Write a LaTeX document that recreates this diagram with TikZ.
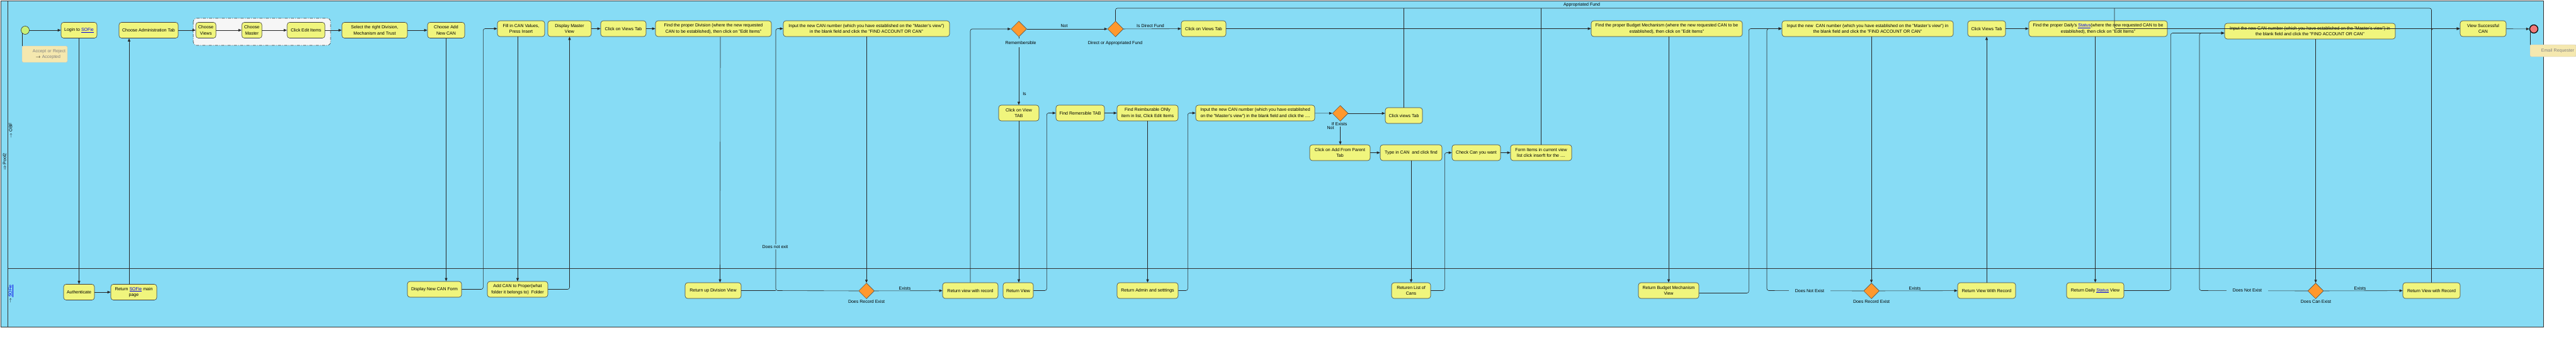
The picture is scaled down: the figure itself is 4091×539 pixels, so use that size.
\documentclass[tikz,border=0pt]{standalone}
\usepackage{fontspec}
\setmainfont{Liberation Sans}
\usepackage{tikz}
\usetikzlibrary{arrows.meta, shapes.geometric}
\definecolor{lanecol}{RGB}{135,220,245}
\definecolor{taskyel}{RGB}{240,245,125}
\definecolor{gworange}{RGB}{255,152,45}
\definecolor{startgreen}{RGB}{200,240,120}
\definecolor{endred}{RGB}{240,120,120}
\definecolor{notefill}{RGB}{245,232,175}
\definecolor{notegray}{RGB}{128,128,128}
\definecolor{linkblue}{RGB}{0,0,230}
\newcommand{\boxfont}{\fontsize{7}{9.5}\selectfont}
\newcommand{\sofie}{\textcolor{linkblue}{\underline{SOFie}}}
\newcommand{\status}{\textcolor{linkblue}{\underline{Status}}}

\begin{document}
\begin{tikzpicture}[x=1pt, y=-1pt,
		task/.style={draw=black!75, line width=0.6pt, fill=taskyel, rounded corners=4pt, minimum height=25pt, inner sep=1pt, align=center, font=\boxfont},
		gate/.style={diamond, draw=black!75, line width=0.5pt, fill=gworange, minimum width=25pt, minimum height=25pt, inner sep=0pt},
		flow/.style={draw=black!85, line width=0.6pt, rounded corners=3pt, -{Triangle[length=5pt,width=4pt]}},
		link/.style={draw=black!85, line width=0.6pt, rounded corners=3pt},
		lbl/.style={font=\boxfont, inner sep=1pt},
		gap/.style={lbl, fill=lanecol, inner xsep=5pt}]
		  \useasboundingbox (0,0) rectangle (4091,539);

		  % draws the pool and the two lanes
		    \draw[black!80, line width=0.8pt, fill=lanecol] (1,1) rectangle (4039,519);
		    \draw[black!80, line width=0.8pt] (12,1) -- (12,519);
		    \draw[black!80, line width=0.8pt] (12,426) -- (4039,426);
		    \node[lbl, rotate=90] (poolname) at (7,257) {$\Rightarrow$\,Pool2};
		    \node[lbl, rotate=90] (obfname) at (17,207) {$\rightarrow$ OBF};
		    \node[lbl, rotate=90] (sofiename) at (17,467) {$\rightarrow$ \sofie};

		  % draws the group of the administration steps
		    \draw[black!80, line width=0.6pt, fill=gray!7, rounded corners=5pt, dash pattern=on 5pt off 2pt on 1pt off 2pt] (307,29) rectangle (525,72);

		  % draws the events and the notes
		    \node[circle, draw=black!80, line width=0.6pt, fill=startgreen, minimum size=13pt, inner sep=0pt] (start) at (40,48) {};
		    \node[circle, draw=black, line width=1.2pt, fill=endred, minimum size=13pt, inner sep=0pt] (stopev) at (4024,46) {};
		    \node[draw=black!25, fill=notefill, rounded corners=2pt, minimum width=72pt, minimum height=26pt, inner sep=2pt, align=right, text width=66pt, font=\boxfont, text=notegray] (acceptnote) at (71,86) {Accept or Reject\\\textcolor{black}{$\rightarrow$} Accepted\hspace*{8pt}};
		    \node[draw=black!25, fill=notefill, rounded corners=2pt, minimum width=73pt, minimum height=19pt, inner sep=2pt, align=right, text width=67pt, font=\boxfont, text=notegray] (mailnote) at (4054.5,80.5) {Email Requester};

		  % draws the tasks of OBF
		    \node[task, minimum width=57pt] (login) at (125.5,48) {Login to \sofie};
		    \node[task, minimum width=94pt] (chadmin) at (236,48) {Choose Administration Tab};
		    \node[task, minimum width=32pt] (chviews) at (327,48) {Choose\\Views};
		    \node[task, minimum width=32pt] (chmaster) at (400,48) {Choose\\Master};
		    \node[task, minimum width=60pt] (clickedit) at (486,48) {Click Edit Items};
		    \node[task, minimum width=104pt] (seldiv) at (595,48) {Select the right Division,\\Mechanism and Trust};
		    \node[task, minimum width=59pt] (addcan) at (708.5,48) {Choose Add\\New CAN};
		    \node[task, minimum width=75pt] (fillcan) at (827.5,45.5) {Fill in CAN Values,\\Press Insert};
		    \node[task, minimum width=69pt] (dispmaster) at (904.5,45.5) {Display Master\\View};
		    \node[task, minimum width=72pt] (clickviews1) at (990,45.5) {Click on Views Tab};
		    \node[task, minimum width=184pt] (finddiv) at (1133,45.5) {Find the proper Division (where the new requested\\CAN to be established), then click on "Edit Items"};
		    \node[task, minimum width=264pt] (input1) at (1376,45.5) {Input the new CAN number (which you have established on the "Master's view")\\in the blank field and click the "FIND ACCOUNT OR CAN"};
		    \node[gate] (gwremem) at (1618,46) {};
		    \node[task, minimum width=64pt] (clickview) at (1618,179.5) {Click on View\\TAB};
		    \node[task, minimum width=77pt] (findremer) at (1715.5,179.5) {Find Remersible TAB};
		    \node[task, minimum width=97pt] (findreimb) at (1822.5,179.5) {Find Reimburable ONly\\item in list, Click Edit Items};
		    \node[task, minimum width=189pt] (input2) at (1993.5,179.5) {Input the new CAN number (which you have established\\on the "Master's view") in the blank field and click the ....};
		    \node[gate] (gwexists) at (2128.5,180) {};
		    \node[task, minimum width=59pt] (clickviews3) at (2229.5,183.5) {Click views Tab};
		    \node[task, minimum width=96pt] (addparent) at (2128,242.5) {Click on Add From Parent\\Tab};
		    \node[task, minimum width=98pt] (typecan) at (2241,242.5) {Type in CAN\ \ and click find};
		    \node[task, minimum width=77pt] (checkcan) at (2344.5,242.5) {Check Can you want};
		    \node[task, minimum width=97pt] (formitems) at (2447.5,242.5) {Form Items in current view\\list click inserft for the ....};
		    \node[gate] (gwfund) at (1771.5,46) {};
		    \node[task, minimum width=71pt] (clickviews2) at (1911.5,45.5) {Click on Views Tab};
		    \node[task, minimum width=240pt] (findbudget) at (2647,45.5) {Find the proper Budget Mechanism (where the new requested CAN to be\\established), then click on "Edit Items"};
		    \node[task, minimum width=272pt] (input3) at (2966,45.5) {Input the new\ \ CAN number (which you have established on the "Master's view") in\\the blank field and click the "FIND ACCOUNT OR CAN"};
		    \node[task, minimum width=60pt] (clickviews4) at (3155,45.5) {Click Views Tab};
		    \node[task, minimum width=220pt] (finddaily) at (3332,45.5) {Find the proper Daily's \status(where the new requested CAN to be\\established), then click on "Edit Items"};
		    \node[task, minimum width=271pt] (input4) at (3668.5,49.5) {Input the new CAN number (which you have established on the "Master's view") in\\the blank field and click the "FIND ACCOUNT OR CAN"};
		    \node[task, minimum width=73pt] (viewsucc) at (3943.5,45.5) {View Successful\\CAN};

		  % draws the tasks of SOFie
		    \node[task, minimum width=49pt] (auth) at (125.5,464) {Authenticate};
		    \node[task, minimum width=73pt] (retmain) at (212.5,464) {Return \sofie{} main\\page};
		    \node[task, minimum width=86pt] (dispform) at (690,459.5) {Display New CAN Form};
		    \node[task, minimum width=96pt] (addproper) at (822,459.5) {Add CAN to Proper(what\\folder it belongs to)\ \ Folder};
		    \node[task, minimum width=89pt] (retdiv) at (1132.5,461.5) {Return up Division View};
		    \node[gate] (gwrec1) at (1376,462) {};
		    \node[task, minimum width=88pt] (retrec1) at (1541,461.5) {Return view with record};
		    \node[task, minimum width=48pt] (retview) at (1617,461.5) {Return View};
		    \node[task, minimum width=97pt] (retadmin) at (1822.5,461.5) {Return Admin and setttings};
		    \node[task, minimum width=62pt] (retcans) at (2241,461.5) {Returen List of\\Cans};
		    \node[task, minimum width=96pt] (retbudget) at (2650,461.5) {Return Budget Mechanism\\View};
		    \node[gate] (gwrec2) at (2972,462) {};
		    \node[task, minimum width=92pt] (retrec2) at (3155,461.5) {Return View With Record};
		    \node[task, minimum width=91pt] (retdaily) at (3327.5,461.5) {Return Daily \status{} View};
		    \node[gate] (gwcan) at (3677.5,462) {};
		    \node[task, minimum width=91pt] (retrec3) at (3861.5,461.5) {Return View with Record};

		  % draws the sequence flows
		    \draw[link] (acceptnote.north west) -- (acceptnote.north west |- start.south west);
		    \draw[link] (mailnote.north west) -- (mailnote.north west |- stopev.south west);
		    \draw[flow] (start) -- (login);
		    \draw[flow] (login) -- (auth);
		    \draw[flow] (auth) -- (retmain);
		    \coordinate (upadmin) at (205,451.5);
		    \draw[flow] (upadmin) -- (upadmin |- chadmin.south);
		    \draw[flow] (chadmin) -- (chviews);
		    \draw[flow] (chviews) -- (chmaster);
		    \draw[flow] (chmaster) -- (clickedit);
		    \draw[flow] (clickedit) -- (seldiv);
		    \draw[flow] (seldiv) -- (addcan);
		    \draw[flow] (addcan.south) -- (addcan.south |- dispform.north);
		    \draw[flow] (dispform.east) -- ++(34,0) |- (fillcan.west);
		    \draw[flow] (addproper.north |- fillcan.south) -- (addproper.north);
		    \draw[flow] (addproper.east) -| (dispmaster.south);
		    \draw[flow] (dispmaster) -- (clickviews1);
		    \draw[flow] (clickviews1) -- (finddiv);
		    \draw[flow] ([xshift=11pt]finddiv.south) -- ([xshift=11pt]retdiv.north);
		    \coordinate (joinA) at (1232,461.5);
		    \draw[link] (retdiv.east) -- (joinA);
		    \draw[flow] (gwrec1.west) -- (joinA) |- (input1.west);
		    \draw[flow] (input1.south) -- (gwrec1.north);
		    \draw[flow] (gwrec1) -- (retrec1);
		    \draw[flow] (retrec1.north) |- (gwremem.west);
		    \draw[flow] (gwremem.south) -- (gwremem.south |- clickview.north);
		    \draw[flow] (clickview.south) -- (clickview.south |- retview.north);
		    \draw[flow] (retview.east) -- ++(21,0) |- (findremer.west);
		    \draw[flow] (findremer) -- (findreimb);
		    \draw[flow] (findreimb) -- (retadmin);
		    \draw[flow] (retadmin.east) -- ++(15,0) |- (input2.west);
		    \draw[flow] (input2) -- (gwexists);
		    \draw[flow] (gwexists.east) -- (gwexists.east -| clickviews3.west);
		    \draw[flow] (gwexists.south) -- (gwexists.south |- addparent.north);
		    \draw[flow] (addparent) -- (typecan);
		    \draw[flow] (typecan) -- (retcans);
		    \draw[flow] (retcans.east) -- ++(22,0) |- (checkcan.west);
		    \draw[flow] (checkcan) -- (formitems);
		    \draw[flow] (gwremem) -- (gwfund);
		    \draw[flow] (gwfund) -- (clickviews2);
		    \draw[flow] (clickviews2) -- (findbudget);
		    \draw[flow] (findbudget.south -| retbudget.north) -- (retbudget.north);
		    \draw[flow] ([yshift=-4pt]retbudget.east) -- ++(79,0) |- (input3.west);
		    \coordinate (joinB) at (2806,461.5);
		    \draw[flow] (gwrec2.west) -- (joinB) |- (input3.west);
		    \draw[flow] (gwrec2.north |- input3.south) -- (gwrec2.north);
		    \draw[flow] (gwrec2) -- (retrec2);
		    \draw[flow] (retrec2) -- (clickviews4);
		    \draw[flow] (clickviews4) -- (finddaily);
		    \draw[flow] (retdaily.north |- finddaily.south) -- (retdaily.north);
		    \draw[flow] (retdaily.east) -- ++(74,0) |- ([yshift=-3pt]input4.west);
		    \coordinate (joinC) at (3493,461.5);
		    \draw[flow] (gwcan.west) -- (joinC) |- ([yshift=-3pt]input4.west);
		    \draw[flow] (gwcan.north |- input4.south) -- (gwcan.north);
		    \draw[flow] (gwcan) -- (retrec3);
		    \draw[flow] (retrec3.north) |- (viewsucc.west);
		    \draw[flow] (viewsucc) -- (stopev);

		  % draws the appropriated fund line along the top
		    \coordinate (topright) at (3861.5,13);
		    \coordinate (drop) at (3358,13);
		    \draw[link] (gwfund.north) |- (topright) -- (retrec3.north);
		    \draw[link] (clickviews3.north) -- (clickviews3.north |- topright);
		    \draw[link] (formitems.north) -- (formitems.north |- topright);
		    \draw[flow] (drop) |- (viewsucc.west);

		  % draws the labels of the gateways and flows
		    \node[gap] (lbnotexit) at (1231,392) {Does not exit};
		    \node[lbl] (lbrec1) at (1376,479) {Does Record Exist};
		    \node[lbl] (lbexists1) at (1437,457.5) {Exists};
		    \node[gap, inner ysep=4.5pt] (lbremem) at (1621,68) {Remembersible};
		    \node[lbl] (lbis) at (1627,149) {Is};
		    \node[lbl] (lbnot1) at (1690,41) {Not};
		    \node[lbl] (lbfund) at (1771,69) {Direct or Appropriated Fund};
		    \node[lbl] (lbdirect) at (1827,41) {Is Direct Fund};
		    \node[gap, inner xsep=1pt] (lbifex) at (2127,197) {If Exists};
		    \node[gap, inner xsep=1pt] (lbnot2) at (2113,203) {Not};
		    \node[lbl] (lbapprop) at (2512,8) {Appropriated Fund};
		    \node[gap, inner xsep=10pt] (lbnotex2) at (2874,461.5) {Does Not Exist};
		    \node[lbl] (lbrec2) at (2972,479) {Does Record Exist};
		    \node[lbl] (lbexists2) at (3041,457.5) {Exists};
		    \node[gap, inner xsep=10pt] (lbnotex3) at (3569,461) {Does Not Exist};
		    \node[lbl] (lbcan) at (3678,479) {Does Can Exist};
		    \node[lbl] (lbexists3) at (3748,457.5) {Exists};
	  \end{tikzpicture}
\end{document}
